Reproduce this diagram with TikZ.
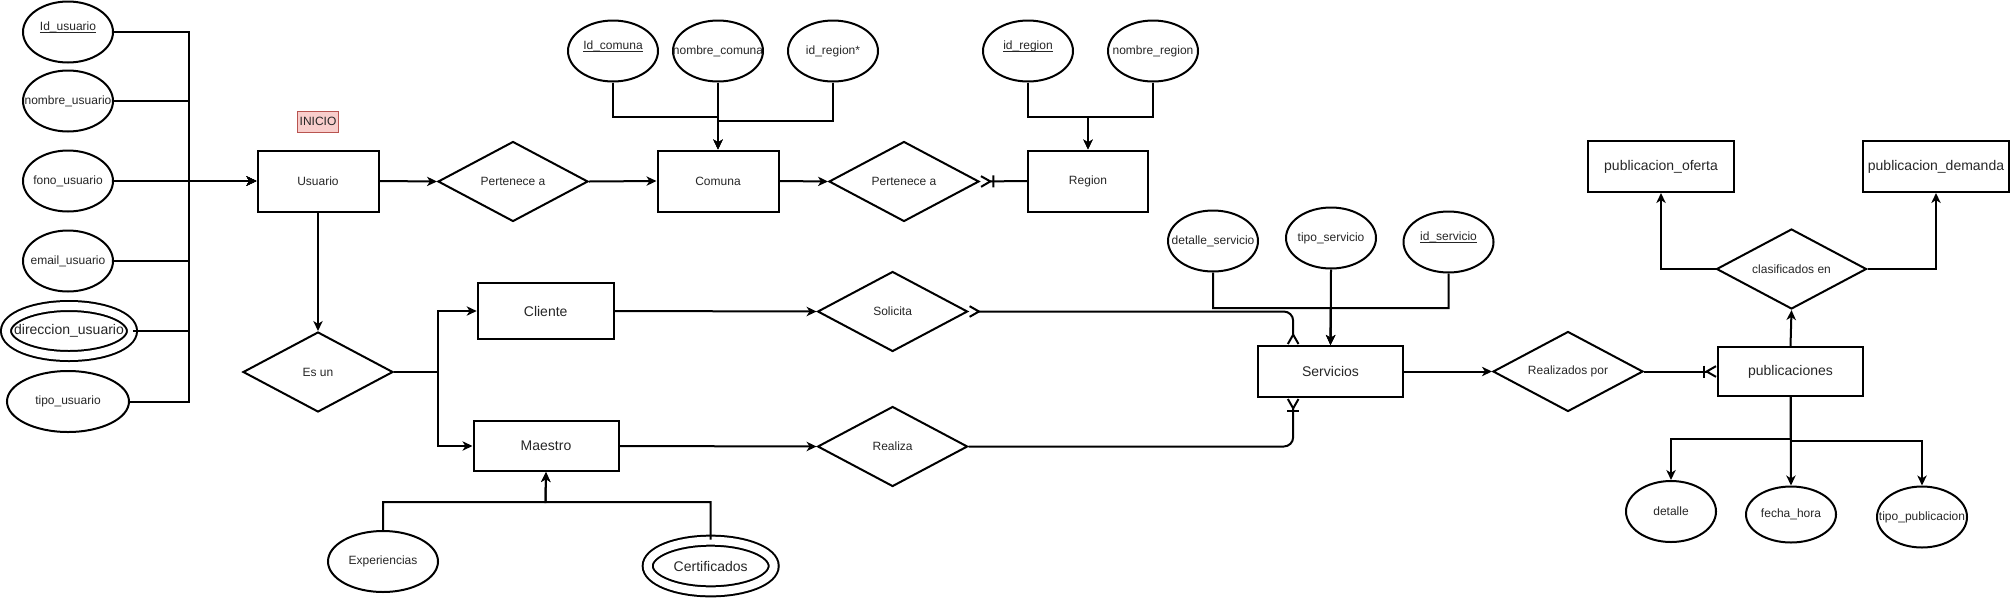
\documentclass[tikz,border=0pt]{standalone}
\usepackage{fontspec}
\setmainfont{Liberation Sans}
\usetikzlibrary{shapes.geometric}
\usetikzlibrary{arrows.meta}
\usetikzlibrary{positioning}

\newcommand{\lbl}[1]{\makebox[0pt]{#1}}
\newcommand{\key}[1]{\underline{\smash{#1}}}

\tikzset{
  crow/.tip={Straight Barb[reversed,length=7pt,width=8pt]},
  onecrow/.tip={Bar[width=9pt]Straight Barb[reversed,length=7pt,width=8pt]},
}

\begin{document}
\begin{tikzpicture}[x=0.75pt,y=0.75pt,yscale=-1,xscale=1,
  every node/.style={text=black!85},
  attr/.style={draw, ellipse, line width=1.5pt, minimum width=67.5pt, minimum height=45.75pt, inner sep=0pt, font=\fontsize{9}{11}\selectfont},
  dbl/.style={attr, double, double distance=6pt, minimum width=94.5pt, minimum height=37.5pt, font=\fontsize{10.5}{12}\selectfont},
  ent/.style={draw, rectangle, line width=1.5pt, minimum width=90.75pt, minimum height=45.75pt, inner sep=0pt, font=\fontsize{9}{11}\selectfont},
  big/.style={font=\fontsize{10.5}{12}\selectfont},
  rel/.style={draw, diamond, aspect=2, line width=1.5pt, minimum width=112.5pt, minimum height=60pt, inner sep=0pt, font=\fontsize{9}{11}\selectfont},
  link/.style={line width=1.5pt},
  arr/.style={link, -{Stealth[length=7.5pt,width=7pt,inset=2.2pt]}},
]
\useasboundingbox (0,0) rectangle (2010,597);

% Usuario and its attributes
\node[ent] (usr) at (318,181) {Usuario};
\node[draw={rgb,255:red,184;green,84;blue,80}, fill={rgb,255:red,248;green,206;blue,204}, line width=0.75pt, minimum width=30.75pt, minimum height=15.75pt, inner sep=0pt, font=\fontsize{9}{11}\selectfont] (ini) at (318,121.5) {INICIO};
\node[attr] (idu) at (68,32) {\lbl{\key{Id\_usuario}}};
\node[attr] (nomu) at (68,101) {\lbl{nombre\_usuario}};
\node[attr] (fonu) at (68,181) {\lbl{fono\_usuario}};
\node[attr] (emau) at (68,261) {\lbl{email\_usuario}};
\node[dbl] (diru) at (69,331) {\lbl{direccion\_usuario}};
\node[attr, minimum width=91.5pt] (tipu) at (68,401.5) {\lbl{tipo\_usuario}};
\coordinate (ubus) at (189,181);
\foreach \a in {idu,nomu,fonu,emau,diru,tipu}
  \draw[arr] (\a.east) -| (ubus) -- (usr.west);

% Comuna
\node[rel] (per1) at (513,181.5) {Pertenece a};
\node[ent] (com) at (718,181) {Comuna};
\node[attr] (idc) at (613,51) {\lbl{\key{Id\_comuna}}};
\node[attr] (nomc) at (718,51) {\lbl{nombre\_comuna}};
\node[attr] (idrc) at (833,51) {\lbl{id\_region*}};
\coordinate (cjoin) at (718,117);
\coordinate (cjoin2) at (718,121);
\draw[arr] (usr.east) -- (per1.west);
\draw[arr] (per1.east) -- (com.west);
\draw[arr] (idc.south) |- (cjoin) -- (com.north);
\draw[arr] (nomc.south) -- (com.north);
\draw[arr] (idrc.south) |- (cjoin2) -- (com.north);

% Region
\node[rel] (per2) at (904,181.5) {Pertenece a};
\node[ent, minimum width=90pt] (reg) at (1088,181) {Region};
\node[attr] (idr) at (1028,51) {\lbl{\key{id\_region}}};
\node[attr] (nomr) at (1153,51) {\lbl{nombre\_region}};
\coordinate (rjoin) at (1088,117);
\draw[arr] (com.east) -- (per2.west);
\draw[link, -{onecrow}] (reg.west) -- (per2.east);
\draw[arr] (idr.south) |- (rjoin) -- (reg.north);
\draw[arr] (nomr.south) |- (rjoin) -- (reg.north);

% Es un: Cliente / Maestro
\node[rel] (esun) at (318,372) {Es un};
\node[ent, big, minimum width=102pt, minimum height=42pt] (cli) at (545.7,311) {Cliente};
\node[ent, big, minimum width=108.75pt, minimum height=37.5pt] (mae) at (546,446) {Maestro};
\node[attr, minimum width=82.5pt] (exp) at (383,561.5) {\lbl{Experiencias}};
\node[dbl, minimum height=38pt] (cer) at (710.7,566) {\lbl{Certificados}};
\coordinate (ejoin) at (438,372);
\coordinate (mjoin) at (545.5,502);
\draw[arr] (usr.south) -- (esun.north);
\draw[arr] (esun.east) -- (ejoin) |- (cli.west);
\draw[arr] (esun.east) -- (ejoin) |- (mae.west);
\draw[arr] (exp.north) |- (mjoin) -- (mae.south);
\draw[arr] (cer.north) |- (mjoin) -- (mae.south);

% Solicita / Realiza -> Servicios
\node[rel] (sol) at (892.6,311.5) {Solicita};
\node[rel] (rea) at (892.6,446.5) {Realiza};
\node[ent, big, minimum width=108.75pt, minimum height=38.25pt] (ser) at (1330.5,371.5) {Servicios};
\node[attr] (dets) at (1213,241) {\lbl{detalle\_servicio}};
\node[attr] (tips) at (1331,238) {\lbl{tipo\_servicio}};
\node[attr] (ids) at (1448.5,242) {\lbl{\key{id\_servicio}}};
\coordinate (sjoin) at (1331,308);
\draw[arr] (cli.east) -- (sol.west);
\draw[arr] (mae.east) -- (rea.west);
\draw[link, rounded corners=7pt, {crow}-{crow}] (sol.east) -| ([xshift=-28pt]ser.north);
\draw[link, rounded corners=7pt, -{onecrow}] (rea.east) -| ([xshift=-28pt]ser.south);
\draw[arr] (dets.south) |- (sjoin) -- (ser.north);
\draw[arr] (tips.south) -- (ser.north);
\draw[arr] (ids.south) |- (sjoin) -- (ser.north);

% publicaciones
\node[rel] (rpor) at (1568,371.5) {Realizados por};
\node[ent, big, minimum width=108.75pt, minimum height=36.75pt] (pub) at (1790.5,371.5) {publicaciones};
\node[rel] (cla) at (1791.5,269) {clasificados en};
\node[ent, big, minimum width=109.5pt, minimum height=38.25pt] (ofe) at (1661,166.5) {publicacion\_oferta};
\node[ent, big, minimum width=109.5pt, minimum height=38.25pt] (dem) at (1936,166.5) {\lbl{publicacion\_demanda}};
\node[attr] (det) at (1671,511.5) {\lbl{detalle}};
\node[attr, minimum height=42pt] (fec) at (1791,514.5) {\lbl{fecha\_hora}};
\node[attr] (tpub) at (1922,517) {\lbl{tipo\_publicacion}};
\coordinate (pjoin1) at (1791,439);
\coordinate (pjoin2) at (1791,441);
\draw[arr] (ser.east) -- (rpor.west);
\draw[link, -{onecrow}] (rpor.east) -- (pub.west);
\draw[arr] (pub.north) -- (cla.south);
\draw[arr] (cla.west) -| (ofe.south);
\draw[arr] (cla.east) -| (dem.south);
\draw[arr] (pub.south) |- (pjoin1) -| (det.north);
\draw[arr] (pub.south) -- (fec.north);
\draw[arr] (pub.south) |- (pjoin2) -| (tpub.north);

\end{tikzpicture}
\end{document}
